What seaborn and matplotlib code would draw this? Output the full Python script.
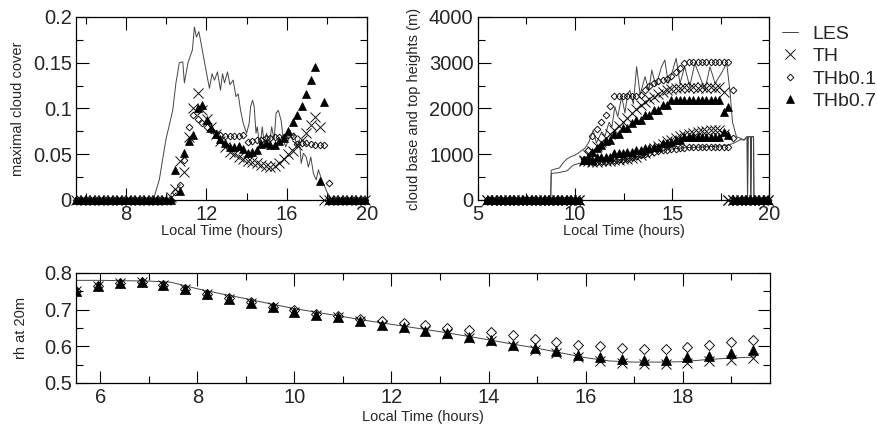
import numpy as np
import matplotlib
matplotlib.use("Agg")
import matplotlib.pyplot as plt
from matplotlib.ticker import MultipleLocator, FuncFormatter
import seaborn as sns

# ---------------- data ----------------
# model output times (top panels every 0.225 h, bottom panel every 0.45 h)
t_model = np.round(5.5 + 0.225 * np.arange(65), 3)
t_rh = np.round(5.5 + 0.45 * np.arange(32), 3)

# maximal cloud cover (non-zero part, zeros elsewhere)
cc_th_vals = [0.003, 0.012, 0.043, 0.031, 0.069, 0.100, 0.117, 0.098, 0.088, 0.080,
              0.072, 0.065, 0.058, 0.053, 0.050, 0.047, 0.045, 0.043, 0.041, 0.040,
              0.038, 0.037, 0.036, 0.037, 0.040, 0.045, 0.050, 0.054, 0.060, 0.066,
              0.073, 0.082, 0.091, 0.080]
cc_b01_vals = [0.009, 0.016, 0.044, 0.080, 0.093, 0.088, 0.084, 0.080, 0.076, 0.073,
               0.071, 0.070, 0.070, 0.070, 0.070, 0.071, 0.063, 0.064, 0.066, 0.066,
               0.068, 0.068, 0.069, 0.069, 0.069, 0.071, 0.070, 0.061, 0.062, 0.062,
               0.061, 0.060, 0.060, 0.060, 0.019]
cc_b07_vals = [0.033, 0.010, 0.051, 0.065, 0.071, 0.100, 0.104, 0.087, 0.079, 0.072,
               0.067, 0.062, 0.058, 0.058, 0.059, 0.056, 0.051, 0.052, 0.055, 0.061,
               0.062, 0.060, 0.060, 0.064, 0.068, 0.075, 0.085, 0.093, 0.103, 0.116,
               0.131, 0.145, 0.021, 0.107]
cc_th = [0.0] * 21 + cc_th_vals + [0.0] * 10
cc_b01 = [0.0] * 22 + cc_b01_vals + [0.0] * 8
cc_b07 = [0.0] * 22 + cc_b07_vals + [0.0] * 9

les_cc_t = [5.5, 9.35, 9.65, 9.98, 10.32, 10.48, 10.65, 10.82, 10.9, 11.08, 11.3, 11.4,
            11.5, 11.62, 11.7, 11.9, 12.07, 12.15, 12.28, 12.4, 12.55, 12.7, 12.8, 12.9,
            13.05, 13.17, 13.33, 13.47, 13.58, 13.7, 13.83, 14.0, 14.13, 14.2, 14.3,
            14.38, 14.47, 14.53, 14.67, 14.78, 14.88, 15.0, 15.12, 15.25, 15.37, 15.47,
            15.58, 15.72, 15.83, 15.95, 16.08, 16.17, 16.28, 16.38, 16.5, 16.63, 16.72,
            16.83, 16.97, 17.08, 17.2, 17.33, 17.47, 17.58, 17.7, 17.83, 18.0, 18.25, 20.0]
les_cc = [0.0, 0.0, 0.022, 0.066, 0.098, 0.128, 0.150, 0.151, 0.128, 0.150, 0.164, 0.189,
          0.178, 0.184, 0.175, 0.151, 0.131, 0.122, 0.138, 0.131, 0.140, 0.120, 0.138,
          0.128, 0.140, 0.126, 0.131, 0.113, 0.116, 0.098, 0.084, 0.073, 0.084, 0.102,
          0.109, 0.102, 0.073, 0.080, 0.058, 0.080, 0.062, 0.073, 0.058, 0.080, 0.066,
          0.095, 0.098, 0.087, 0.066, 0.058, 0.066, 0.076, 0.066, 0.073, 0.058, 0.066,
          0.040, 0.051, 0.047, 0.036, 0.047, 0.029, 0.022, 0.033, 0.025, 0.018, 0.009,
          0.0, 0.0]

# cloud base / top heights (m)
th_top_vals = [880, 980, 1080, 1180, 1270, 1360, 1450, 1530, 1620, 1710, 1800, 1900,
               1990, 2070, 2150, 2200, 2260, 2310, 2360, 2400, 2430, 2450, 2450, 2460,
               2450, 2470, 2450, 2460, 2450, 2470, 2450, 2460, 2350]
th_base_vals = [860, 850, 840, 840, 850, 850, 860, 870, 880, 890, 900, 920, 950, 990,
                1030, 1080, 1130, 1180, 1230, 1280, 1320, 1360, 1400, 1430, 1450, 1470,
                1490, 1500, 1510, 1520, 1530, 1530, 1450]
b01_top_vals = [900, 1100, 1400, 1550, 1700, 1850, 2050, 2270, 2270, 2270, 2270, 2270,
                2270, 2300, 2400, 2500, 2550, 2600, 2620, 2650, 2700, 2800, 2880, 3000,
                3020, 3020, 3020, 3020, 3020, 3020, 3020, 3020, 3020, 3020, 2404]
b01_base_vals = [850, 850, 830, 840, 850, 860, 870, 880, 890, 900, 920, 940, 960, 980,
                 1000, 1030, 1050, 1070, 1090, 1100, 1110, 1120, 1130, 1140, 1150, 1150,
                 1150, 1150, 1150, 1155, 1155, 1160, 1160, 1160, 1350]
b07_top_vals = [880, 950, 1050, 1130, 1200, 1280, 1311, 1443, 1443, 1567, 1567, 1676,
                1749, 1749, 1858, 1858, 1967, 1967, 2076, 2076, 2186, 2186, 2186, 2186,
                2186, 2186, 2186, 2186, 2186, 2186, 2186, 2186, 1930, 2040]
b07_base_vals = [874, 874, 874, 947, 947, 947, 947, 1020, 1020, 1020, 1056, 1056, 1093,
                 1093, 1130, 1130, 1165, 1165, 1239, 1239, 1274, 1311, 1311, 1384, 1384,
                 1384, 1384, 1384, 1384, 1384, 1384, 1384, 1493, 1420]
th_top = [0.0] * 22 + th_top_vals + [0.0] * 10
th_base = [0.0] * 22 + th_base_vals + [0.0] * 10
b01_top = [0.0] * 22 + b01_top_vals + [0.0] * 8
b01_base = [0.0] * 22 + b01_base_vals + [0.0] * 8
b07_top = [0.0] * 22 + b07_top_vals + [0.0] * 9
b07_base = [0.0] * 22 + b07_base_vals + [0.0] * 9

les_top_t = [5.5, 8.75, 8.78, 9.0, 9.2, 9.4, 9.6, 9.8, 10.0, 10.25, 10.5, 10.7, 10.94,
             11.1, 11.37, 11.55, 11.75, 11.9, 12.05, 12.2, 12.4, 12.57, 12.7, 12.82, 13.0,
             13.17, 13.35, 13.6, 13.8, 13.95, 14.15, 14.3, 14.45, 14.62, 14.8, 15.0, 15.2,
             15.4, 15.64, 15.9, 16.16, 16.42, 16.68, 16.94, 17.2, 17.5, 17.8, 17.96, 18.1,
             18.3, 18.5, 18.7, 18.85, 18.87, 18.9, 19.02, 19.04, 19.08, 19.18, 19.2, 20.0]
les_top = [0, 0, 650, 680, 700, 820, 900, 950, 980, 1050, 1130, 1250, 1530, 1240, 1490,
           1400, 1700, 1600, 2040, 1820, 2260, 1900, 2300, 2400, 2100, 2914, 2300, 2695,
           2400, 2841, 2500, 2700, 2914, 3060, 2550, 2800, 3097, 2550, 2914, 2477, 2987,
           2700, 2404, 2914, 2550, 2750, 2987, 2404, 1700, 1384, 1350, 1311, 1384, 0,
           1384, 1384, 0, 1384, 1384, 0, 0]
les_base_t = [5.5, 8.75, 8.78, 9.2, 9.6, 9.9, 10.2, 10.6, 11.0, 11.5, 12.0, 12.5, 13.0,
              13.5, 14.0, 14.5, 15.0, 15.5, 16.0, 16.5, 17.0, 17.5, 17.9, 18.2, 18.5,
              18.7, 18.85, 18.87, 18.9, 19.02, 19.04, 19.08, 19.18, 19.2, 20.0]
les_base = [0, 0, 580, 600, 640, 760, 800, 820, 830, 850, 870, 890, 920, 980, 1050, 1090,
            1120, 1140, 1150, 1160, 1170, 1180, 1200, 1250, 1320, 1311, 1384, 0, 1384,
            1384, 0, 1384, 1384, 0, 0]

# relative humidity at 20 m
rh_th = [0.750, 0.765, 0.774, 0.775, 0.768, 0.756, 0.743, 0.730, 0.718, 0.706, 0.695,
         0.686, 0.679, 0.670, 0.659, 0.651, 0.642, 0.634, 0.622, 0.614, 0.600, 0.591,
         0.582, 0.571, 0.561, 0.555, 0.552, 0.552, 0.555, 0.559, 0.564, 0.568]
rh_b01 = [0.750, 0.765, 0.774, 0.775, 0.768, 0.756, 0.744, 0.731, 0.720, 0.708, 0.698,
          0.689, 0.682, 0.675, 0.668, 0.665, 0.659, 0.650, 0.645, 0.638, 0.630, 0.620,
          0.612, 0.604, 0.600, 0.595, 0.593, 0.593, 0.598, 0.603, 0.613, 0.618]
rh_b07 = [0.750, 0.765, 0.774, 0.775, 0.768, 0.756, 0.743, 0.730, 0.718, 0.706, 0.695,
          0.686, 0.679, 0.670, 0.659, 0.652, 0.643, 0.636, 0.625, 0.616, 0.604, 0.595,
          0.586, 0.577, 0.571, 0.565, 0.564, 0.564, 0.571, 0.574, 0.583, 0.589]
les_rh_t = [5.5, 6.0, 6.5, 7.0, 7.45, 8.0, 8.5, 9.0, 9.5, 10.0, 10.5, 11.0, 11.5, 12.0,
            12.5, 13.0, 13.5, 14.0, 14.5, 15.0, 15.5, 16.0, 16.5, 17.0, 17.5, 18.0, 18.5,
            19.0, 19.5]
les_rh = [0.780, 0.780, 0.779, 0.778, 0.775, 0.757, 0.743, 0.730, 0.716, 0.703, 0.692,
          0.681, 0.670, 0.660, 0.650, 0.640, 0.629, 0.618, 0.606, 0.595, 0.582, 0.569,
          0.560, 0.557, 0.557, 0.558, 0.564, 0.568, 0.571]

series_labels = ["LES", "TH", "THb0.1", "THb0.7"]

# ---------------- style ----------------
sns.set_style("ticks")
plt.rcParams["font.family"] = ["Liberation Sans", "DejaVu Sans"]
TICK_FS = 14.5
LABEL_FS = 10.5
INK = "#111111"
LES_C = "#444444"

W, H = 878, 430
fig = plt.figure(figsize=(W / 100, H / 100), dpi=100)


def px_axes(left, right, top, bottom):
    return fig.add_axes([left / W, 1 - bottom / H, (right - left) / W, (bottom - top) / H])


ax_cc = px_axes(76, 367, 17, 200)
ax_h = px_axes(477.7, 769.5, 17, 200)
ax_rh = px_axes(76, 770, 273, 383)


def les_line(ax, x, y, label=None):
    sns.lineplot(x=x, y=y, ax=ax, estimator=None, sort=False, legend=False,
                 color=LES_C, linewidth=0.7, label=label)


def marks(ax, x, y, kind, big=False, label=None, clip=True):
    if kind == "TH":
        kw = dict(marker="x", markersize=7.5 if big else 6.5, markeredgewidth=0.7,
                  markeredgecolor=INK, color=INK)
    elif kind == "THb0.1":
        kw = dict(marker="D", markersize=4.6 if big else 3.4, markeredgewidth=0.7,
                  markeredgecolor=INK, markerfacecolor="none", color=INK)
    else:
        kw = dict(marker="^", markersize=7 if big else 5.2, markeredgewidth=0.5,
                  markeredgecolor="black", markerfacecolor="black", color="black")
    sns.lineplot(x=x, y=y, ax=ax, estimator=None, sort=False, legend=False,
                 linestyle="", label=label, **kw)
    ax.lines[-1].set_clip_on(clip)


# top-left: maximal cloud cover
les_line(ax_cc, les_cc_t, les_cc)
marks(ax_cc, t_model, cc_th, "TH", clip=False)
marks(ax_cc, t_model, cc_b01, "THb0.1", clip=False)
marks(ax_cc, t_model, cc_b07, "THb0.7", clip=False)
ax_cc.set_xlim(5.5, 20)
ax_cc.set_ylim(0, 0.2)
ax_cc.xaxis.set_major_locator(MultipleLocator(4))
ax_cc.xaxis.set_minor_locator(MultipleLocator(2))
ax_cc.yaxis.set_major_locator(MultipleLocator(0.05))
ax_cc.yaxis.set_minor_locator(MultipleLocator(0.025))
ax_cc.set_ylabel("maximal cloud cover", fontsize=LABEL_FS)

# top-right: cloud base and top heights
les_line(ax_h, les_top_t, les_top, label="LES")
les_line(ax_h, les_base_t, les_base)
marks(ax_h, t_model, th_top, "TH", label="TH", clip=False)
marks(ax_h, t_model, th_base, "TH", clip=False)
marks(ax_h, t_model, b01_top, "THb0.1", label="THb0.1", clip=False)
marks(ax_h, t_model, b01_base, "THb0.1", clip=False)
marks(ax_h, t_model, b07_top, "THb0.7", label="THb0.7", clip=False)
marks(ax_h, t_model, b07_base, "THb0.7", clip=False)
ax_h.set_xlim(5, 20)
ax_h.set_ylim(0, 4000)
ax_h.xaxis.set_major_locator(MultipleLocator(5))
ax_h.xaxis.set_minor_locator(MultipleLocator(2.5))
ax_h.yaxis.set_major_locator(MultipleLocator(1000))
ax_h.yaxis.set_minor_locator(MultipleLocator(500))
ax_h.set_ylabel("cloud base and top heights (m)", fontsize=LABEL_FS)

# bottom: rh at 20 m
les_line(ax_rh, les_rh_t, les_rh)
marks(ax_rh, t_rh, rh_th, "TH", big=True)
marks(ax_rh, t_rh, rh_b01, "THb0.1", big=True)
marks(ax_rh, t_rh, rh_b07, "THb0.7", big=True)
ax_rh.set_xlim(5.5, 19.8)
ax_rh.set_ylim(0.5, 0.8)
ax_rh.xaxis.set_major_locator(MultipleLocator(2))
ax_rh.xaxis.set_minor_locator(MultipleLocator(1))
ax_rh.yaxis.set_major_locator(MultipleLocator(0.1))
ax_rh.yaxis.set_minor_locator(MultipleLocator(0.05))
ax_rh.set_ylabel("rh at 20m", fontsize=LABEL_FS)

fmt = FuncFormatter(lambda v, p: "%g" % round(v, 6))
for ax in (ax_cc, ax_h, ax_rh):
    ax.set_xlabel("Local Time (hours)", fontsize=LABEL_FS)
    ax.xaxis.set_major_formatter(fmt)
    ax.yaxis.set_major_formatter(fmt)
    ax.tick_params(which="both", direction="in", top=True, right=True,
                   color="black", width=0.8, labelsize=TICK_FS)
    ax.tick_params(which="major", length=9)
    ax.tick_params(which="minor", length=5)
    ax.tick_params(axis="x", pad=3.5)
    ax.tick_params(axis="y", pad=3)
    for s in ax.spines.values():
        s.set_linewidth(0.9)
        s.set_color("black")

# label positions (axes fraction)
ax_cc.yaxis.set_label_coords(-0.176, 0.5)
ax_h.yaxis.set_label_coords(-0.193, 0.5)
ax_rh.yaxis.set_label_coords(-0.069, 0.5)
ax_cc.xaxis.set_label_coords(0.5, -0.13)
ax_h.xaxis.set_label_coords(0.5, -0.13)
ax_rh.xaxis.set_label_coords(0.5, -0.25)

handles, labels = ax_h.get_legend_handles_labels()
order = [labels.index(s) for s in series_labels]
fig.legend([handles[i] for i in order], [labels[i] for i in order],
           loc="upper left", bbox_to_anchor=(782 / W, 1 - 25 / H), frameon=False,
           fontsize=14, handlelength=0.8, handletextpad=0.75, labelspacing=0.25,
           borderpad=0, borderaxespad=0)

fig.savefig("out.png", dpi=100)
